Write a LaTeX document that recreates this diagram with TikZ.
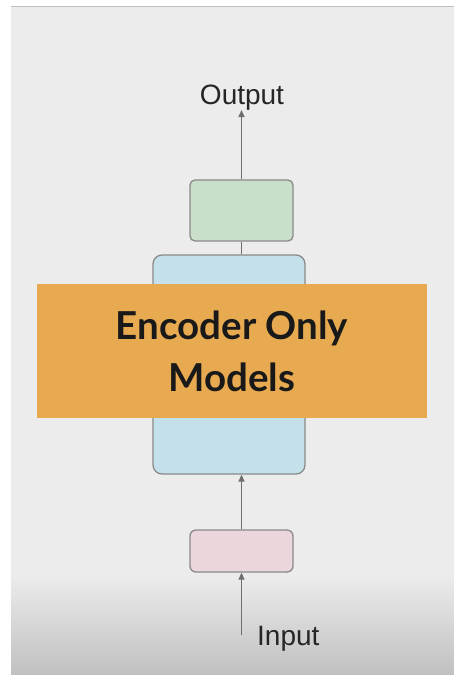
\documentclass[tikz,border=0pt]{standalone}
\usepackage{fontspec}
\setmainfont{Liberation Sans}
\newfontfamily\latofont{Lato}
\usetikzlibrary{arrows.meta}

\definecolor{bgray}{HTML}{ECECEC}
\definecolor{bdark}{HTML}{C0C0C0}
\definecolor{edgegray}{HTML}{8A8A8A}
\definecolor{arrowgray}{HTML}{6E6E6E}
\definecolor{headfill}{HTML}{C9DFC9}
\definecolor{encfill}{HTML}{C4E0EA}
\definecolor{embfill}{HTML}{EBD6DB}
\definecolor{bannerfill}{HTML}{E8AA50}

\tikzset{
  block/.style={draw=edgegray, line width=1.3pt, inner sep=0pt},
  conn/.style={draw=arrowgray, line width=1.4pt, -{Triangle[length=7pt,width=6pt]}},
  plainconn/.style={draw=arrowgray, line width=1.4pt},
  label/.style={font=\fontsize{28}{30}\selectfont, text=black!85, inner sep=0pt}
}

\begin{document}
\begin{tikzpicture}[x=1pt,y=-1pt]
\useasboundingbox (0,0) rectangle (454,675);
% page background with darker bottom band
\fill[white] (0,0) rectangle (454,675);
\fill[bgray] (11,6) rectangle (454,675);
\shade[top color=bgray, bottom color=bdark] (11,575) rectangle (454,675);
\draw[bdark, line width=1pt] (11,6) -- (454,6);

% blocks
\node[block, fill=headfill, rounded corners=5pt, minimum width=103, minimum height=61] (head) at (241.5,210.5) {};
\node[block, fill=encfill, rounded corners=9pt, minimum width=152, minimum height=219] (enc) at (229,364.5) {};
\node[block, fill=embfill, rounded corners=6pt, minimum width=103, minimum height=42] (emb) at (241.5,551) {};

% labels
\node[label, anchor=base] (out) at (242,104) {Output};
\node[label, anchor=base west] (inp) at (257,645) {Input};
\coordinate (src) at (241.5,635);

% connectors
\draw[conn] (src) -- (emb.south);
\draw[conn] (emb.north) -- (emb.north |- enc.south);
\draw[plainconn] (head.south |- enc.north) -- (head.south);
\draw[conn] (head.north) -- (head.north |- out.south);

% title banner
\node[fill=bannerfill, minimum width=390, minimum height=134, inner sep=0pt,
      align=center, font=\latofont\bfseries\fontsize{38.5}{52}\selectfont, text=black!90]
      (banner) at (232,351) {Encoder Only\\Models};
\end{tikzpicture}
\end{document}
